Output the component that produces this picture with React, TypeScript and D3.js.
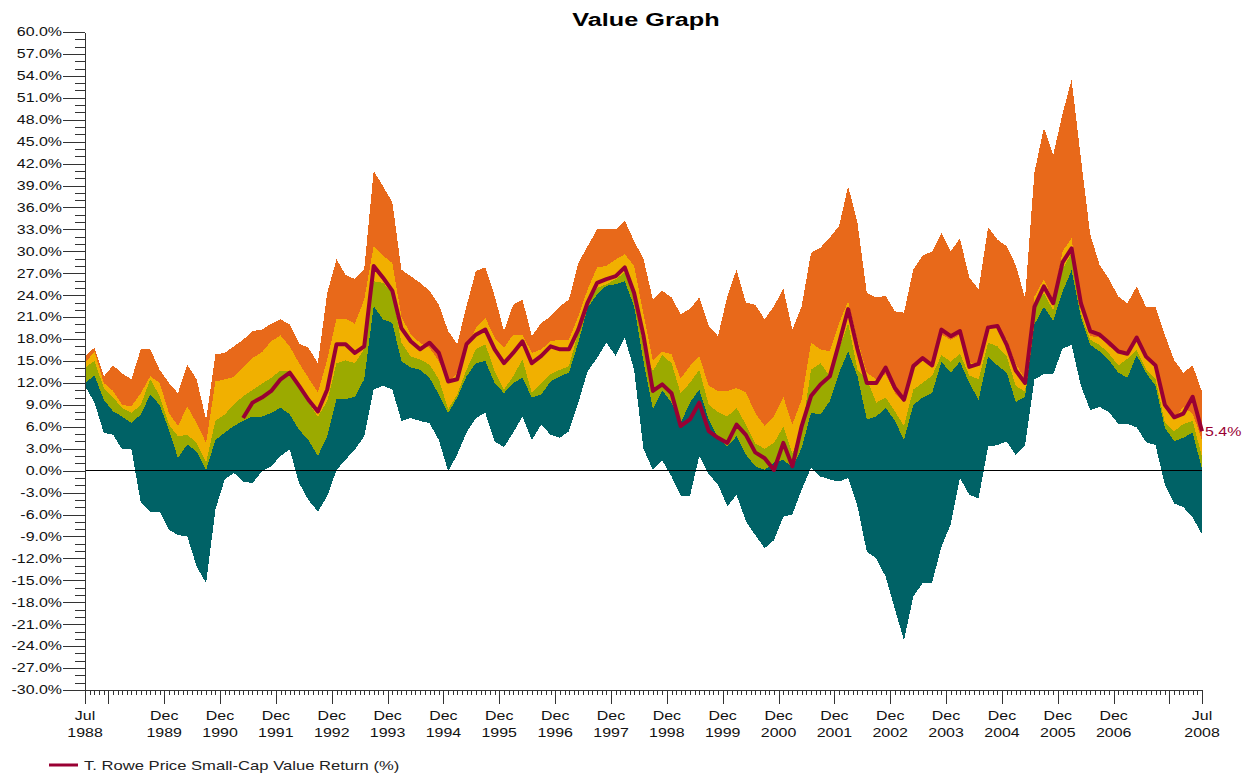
import React, { useEffect, useRef } from 'react';
import * as d3 from 'd3';

// rolling return bands, sampled every 2 months from Jul 1988 to Jul 2008
const START = '1988-07';
const END = '2008-07';
const STEP_MONTHS = 2;

const maxReturn = [
  15.7, 16.8, 12.9, 14.4, 13.3, 12.5, 16.6, 16.6, 13.8, 12.0,
  10.6, 14.5, 12.5, 7.0, 15.9, 16.1, 17.0, 17.9, 19.1, 19.3,
  20.1, 20.7, 20.0, 17.4, 16.8, 14.7, 24.3, 28.9, 26.8, 26.2,
  27.5, 41.0, 38.9, 36.7, 27.5, 26.6, 25.7, 24.6, 22.7, 19.1,
  17.3, 22.5, 27.3, 27.8, 23.9, 19.1, 22.7, 23.4, 18.4, 20.2,
  21.1, 22.5, 23.4, 28.4, 30.7, 33.0, 33.0, 33.0, 34.2, 31.4,
  29.0, 23.4, 24.6, 23.7, 21.4, 22.1, 23.7, 19.8, 18.4, 23.9,
  27.5, 23.0, 22.7, 20.7, 22.5, 24.9, 19.3, 22.5, 29.8, 30.5,
  31.9, 33.5, 38.9, 33.9, 24.3, 23.7, 23.9, 21.8, 21.6, 27.5,
  29.4, 30.0, 32.5, 30.0, 31.8, 26.4, 24.8, 33.3, 31.6, 30.7,
  28.1, 23.6, 40.8, 46.9, 43.2, 48.8, 53.5, 42.7, 32.3, 28.1,
  26.2, 23.8, 22.9, 25.2, 22.4, 22.4, 18.6, 15.1, 13.4, 14.4,
  10.8,
];

const upperQuartile = [
  14.7, 16.3, 12.0, 10.9, 9.0, 8.8, 10.6, 12.9, 12.0, 7.9,
  6.1, 8.8, 6.5, 3.8, 12.2, 12.5, 12.8, 14.1, 15.4, 16.2,
  17.7, 18.5, 17.0, 14.7, 12.7, 10.7, 15.2, 20.8, 20.8, 20.1,
  23.4, 30.7, 29.4, 28.4, 21.1, 18.6, 17.5, 16.8, 15.0, 12.0,
  13.4, 17.0, 19.5, 20.9, 18.2, 16.8, 18.6, 18.6, 16.1, 16.6,
  17.7, 17.9, 17.9, 21.1, 24.8, 27.8, 28.0, 28.9, 29.6, 28.0,
  21.5, 15.0, 16.3, 15.9, 12.6, 14.3, 15.7, 11.6, 10.9, 10.9,
  11.3, 10.7, 7.9, 6.1, 7.4, 10.1, 6.3, 9.7, 17.5, 16.6,
  16.3, 20.2, 23.2, 17.9, 13.4, 12.5, 13.2, 10.6, 9.3, 14.1,
  15.0, 14.9, 18.6, 17.9, 18.6, 14.9, 14.4, 20.0, 19.6, 17.9,
  14.6, 12.5, 23.8, 26.2, 23.3, 30.0, 31.8, 22.9, 18.4, 18.2,
  17.0, 16.3, 16.3, 17.7, 15.6, 14.4, 8.5, 7.1, 8.7, 7.8,
  4.2,
];

const medianReturn = [
  14.1, 15.0, 11.3, 10.0, 8.6, 7.9, 9.0, 12.5, 10.2, 6.3,
  4.7, 4.9, 3.8, 1.1, 6.8, 7.7, 9.0, 10.2, 11.0, 11.9,
  12.7, 13.7, 13.6, 11.6, 9.3, 7.4, 9.5, 14.7, 15.1, 14.7,
  16.6, 25.9, 25.7, 24.3, 17.5, 15.6, 15.2, 14.5, 12.5, 8.4,
  10.4, 13.8, 16.6, 17.3, 13.6, 11.1, 12.9, 15.2, 10.6, 12.0,
  13.2, 13.8, 14.3, 18.9, 22.7, 25.0, 25.5, 26.2, 27.1, 23.9,
  17.0, 13.6, 15.8, 14.7, 10.6, 12.0, 13.8, 9.0, 8.0, 7.4,
  8.6, 6.3, 3.7, 3.0, 3.8, 6.0, 2.4, 5.2, 13.8, 14.7,
  12.9, 16.6, 20.2, 13.8, 12.5, 9.3, 10.0, 8.1, 6.1, 11.1,
  12.0, 13.0, 15.8, 14.9, 16.0, 13.0, 12.5, 17.5, 17.0, 15.6,
  11.6, 10.8, 22.4, 24.3, 21.9, 27.6, 29.7, 21.5, 17.9, 17.2,
  16.0, 14.4, 15.3, 16.5, 13.9, 12.5, 6.6, 5.4, 6.4, 6.8,
  1.9,
];

const lowerQuartile = [
  12.0, 13.0, 9.7, 8.1, 7.4, 6.5, 7.7, 10.4, 9.0, 5.6,
  1.7, 3.6, 2.6, 0.1, 4.2, 5.2, 6.1, 6.8, 7.4, 7.4,
  7.9, 8.6, 7.7, 5.6, 4.2, 2.0, 4.7, 9.8, 9.8, 10.1,
  12.5, 22.5, 20.7, 20.2, 15.0, 14.1, 13.8, 12.7, 10.4, 7.9,
  10.0, 12.9, 14.7, 15.0, 12.0, 10.6, 12.0, 12.7, 10.0, 10.4,
  12.2, 12.9, 13.4, 17.5, 22.3, 24.1, 25.3, 25.5, 25.9, 22.5,
  15.0, 8.4, 11.0, 9.3, 6.5, 9.3, 11.1, 7.0, 4.5, 3.3,
  4.7, 2.2, 0.6, 0.1, 1.1, 1.5, 0.4, 3.1, 7.9, 7.7,
  9.5, 13.4, 16.3, 12.9, 7.0, 7.4, 8.6, 6.8, 4.2, 9.0,
  10.0, 10.6, 14.9, 13.4, 14.9, 12.0, 9.7, 15.6, 14.4, 13.4,
  9.4, 10.1, 20.0, 22.4, 20.5, 24.5, 27.4, 21.0, 17.2, 16.3,
  15.1, 13.4, 12.7, 15.8, 13.4, 11.6, 5.9, 4.0, 4.5, 5.2,
  0.2,
];

const minReturn = [
  11.6, 9.3, 5.2, 4.9, 2.9, 2.9, -4.4, -5.6, -5.6, -8.1,
  -8.8, -9.0, -13.1, -15.4, -5.3, -1.2, -0.3, -1.5, -1.7, -0.1,
  0.6, 2.0, 2.9, -1.7, -4.0, -5.6, -3.5, 0.1, 1.5, 2.9,
  4.7, 11.1, 11.6, 11.1, 6.8, 7.2, 6.8, 6.5, 4.2, -0.1,
  2.2, 5.2, 7.2, 7.9, 4.0, 3.2, 5.2, 7.4, 4.2, 6.3,
  4.9, 4.5, 5.4, 9.3, 13.6, 15.4, 17.5, 15.7, 18.2, 13.8,
  3.0, 0.1, 1.4, -0.8, -3.4, -3.5, 2.0, -0.5, -1.9, -4.9,
  -3.3, -6.9, -8.8, -10.6, -9.5, -6.3, -6.0, -2.6, 0.4, -0.8,
  -1.2, -1.5, -1.0, -4.9, -11.1, -12.0, -14.5, -19.0, -23.2, -17.2,
  -15.4, -15.3, -10.4, -7.3, -1.0, -3.3, -3.8, 3.3, 3.5, 4.0,
  2.1, 3.5, 12.5, 13.2, 13.2, 16.7, 17.2, 11.6, 8.3, 8.7,
  8.0, 6.4, 6.4, 5.9, 3.9, 3.5, -1.9, -4.5, -5.0, -6.4,
  -8.7,
];

// fund has no history before spring 1991
const fundReturn = [
  null, null, null, null, null, null, null, null, null, null,
  null, null, null, null, null, null, null,
  7.2, 9.3, 10.0, 10.9, 12.5, 13.4, 11.6, 9.7, 8.1, 11.1,
  17.3, 17.3, 16.1, 17.0, 28.0, 26.4, 24.6, 19.5, 17.7, 16.6,
  17.5, 16.1, 12.2, 12.5, 17.3, 18.6, 19.3, 16.6, 14.7, 16.1,
  17.7, 14.7, 15.7, 17.0, 16.6, 16.6, 19.3, 23.0, 25.7, 26.2,
  26.6, 27.8, 24.3, 18.5, 10.9, 11.8, 10.6, 6.1, 7.0, 9.3,
  5.4, 4.5, 3.8, 6.3, 4.9, 2.5, 1.7, 0.1, 3.8, 0.6,
  6.1, 10.2, 11.8, 12.9, 17.5, 22.1, 16.6, 12.0, 12.0, 14.1,
  11.3, 9.7, 14.3, 15.4, 14.4, 19.3, 18.4, 19.1, 14.2, 14.6,
  19.6, 19.8, 17.2, 13.7, 12.0, 22.4, 25.2, 22.9, 28.5, 30.4,
  22.9, 19.1, 18.6, 17.5, 16.3, 16.0, 18.2, 15.6, 14.4, 9.0,
  7.3, 7.8, 10.1, 5.4,
];

const yTickValues = [
  -30, -27, -24, -21, -18, -15, -12, -9, -6, -3, 0, 3, 6, 9, 12, 15,
  18, 21, 24, 27, 30, 33, 36, 39, 42, 45, 48, 51, 54, 57, 60,
];

const xTickLabels = [
  '1988-07', '1989-12', '1990-12', '1991-12', '1992-12', '1993-12', '1994-12',
  '1995-12', '1996-12', '1997-12', '1998-12', '1999-12', '2000-12', '2001-12',
  '2002-12', '2003-12', '2004-12', '2005-12', '2006-12', '2008-07',
];

const seriesName = 'T. Rowe Price Small-Cap Value Return (%)';
const chartTitle = 'Value Graph';

const colors = {
  top: '#E8691A',
  upper: '#F1B000',
  lower: '#9BAA00',
  bottom: '#006266',
  fund: '#990033',
};

const WIDTH = 1243;
const HEIGHT = 773;
const margin = { top: 32, right: 41, bottom: 83, left: 85 };
const STRETCH = 1.33; // the source glyphs are drawn wide
const FONT = "'Liberation Sans', Arial, sans-serif";

function App() {
  const svgRef = useRef<SVGSVGElement>(null);

  useEffect(() => {
    const svg = d3.select(svgRef.current);
    svg.selectAll('*').remove();

    const parse = d3.timeParse('%Y-%m');
    const start = parse(START) as Date;
    const end = parse(END) as Date;
    const dates = maxReturn.map((_, i) => d3.timeMonth.offset(start, i * STEP_MONTHS));

    const x = d3
      .scaleTime()
      .domain([start, end])
      .range([margin.left, WIDTH - margin.right]);
    const y = d3
      .scaleLinear()
      .domain([-30, 60])
      .range([HEIGHT - margin.bottom, margin.top]);

    const text = (
      parent: any,
      tx: number,
      ty: number,
      str: string,
      anchor: string,
      size: number,
      fill = '#111',
      weight = 'normal'
    ) =>
      parent
        .append('text')
        .attr('transform', `translate(${tx},${ty}) scale(${STRETCH},1)`)
        .attr('text-anchor', anchor)
        .attr('font-family', FONT)
        .attr('font-size', size)
        .attr('font-weight', weight)
        .attr('fill', fill)
        .text(str);

    // bands
    const bands = [
      { lo: upperQuartile, hi: maxReturn, color: colors.top },
      { lo: medianReturn, hi: upperQuartile, color: colors.upper },
      { lo: lowerQuartile, hi: medianReturn, color: colors.lower },
      { lo: minReturn, hi: lowerQuartile, color: colors.bottom },
    ];
    bands.forEach((b) => {
      const area = d3
        .area<number>()
        .x((_, i) => x(dates[i]))
        .y0((_, i) => y(b.lo[i]))
        .y1((d) => y(d));
      svg
        .append('path')
        .datum(b.hi)
        .attr('d', area)
        .attr('fill', b.color)
        .attr('shape-rendering', 'crispEdges');
    });

    // zero line
    svg
      .append('line')
      .attr('x1', x(start))
      .attr('x2', x(end))
      .attr('y1', y(0))
      .attr('y2', y(0))
      .attr('stroke', '#000')
      .attr('shape-rendering', 'crispEdges');

    // fund line
    const line = d3
      .line<number | null>()
      .defined((d) => d !== null)
      .x((_, i) => x(dates[i]))
      .y((d) => y(d as number));
    svg
      .append('path')
      .datum(fundReturn)
      .attr('d', line)
      .attr('fill', 'none')
      .attr('stroke', colors.fund)
      .attr('stroke-width', 4)
      .attr('stroke-linejoin', 'round');

    const lastFund = fundReturn[fundReturn.length - 1] as number;
    text(svg, x(end) + 3, y(lastFund) + 4.5, `${lastFund.toFixed(1)}%`, 'start', 12, colors.fund);

    // y axis
    const yMinor = svg
      .append('g')
      .attr('transform', `translate(${margin.left},0)`)
      .call(
        d3.axisLeft(y).tickValues(d3.range(-30, 61, 1)).tickSize(10).tickSizeOuter(0).tickFormat(() => '')
      );
    const yMajor = svg
      .append('g')
      .attr('transform', `translate(${margin.left},0)`)
      .call(d3.axisLeft(y).tickValues(yTickValues).tickSize(22).tickSizeOuter(0).tickFormat(() => ''));
    [yMinor, yMajor].forEach((g) => {
      g.selectAll('line, path').attr('stroke', '#333').attr('shape-rendering', 'crispEdges');
    });
    yTickValues.forEach((v) => {
      text(svg, margin.left - 23, y(v) + 4.3, `${v.toFixed(1)}%`, 'end', 12);
    });

    // x axis
    const monthEnd = d3.timeMonth.offset(end, 1);
    const decembers = d3.timeMonth.range(start, monthEnd).filter((d) => d.getMonth() === 11);
    const labelDates = xTickLabels.map((s) => parse(s) as Date);
    const xMinor = svg
      .append('g')
      .attr('transform', `translate(0,${HEIGHT - margin.bottom})`)
      .call(
        d3
          .axisBottom(x)
          .tickValues(d3.timeMonth.range(start, monthEnd))
          .tickSize(5)
          .tickSizeOuter(0)
          .tickFormat(() => '')
      );
    const xMajor = svg
      .append('g')
      .attr('transform', `translate(0,${HEIGHT - margin.bottom})`)
      .call(
        d3
          .axisBottom(x)
          .tickValues([start, ...decembers, end])
          .tickSize(14)
          .tickSizeOuter(0)
          .tickFormat(() => '')
      );
    [xMinor, xMajor].forEach((g) => {
      g.selectAll('line, path').attr('stroke', '#333').attr('shape-rendering', 'crispEdges');
    });
    const fmtMonth = d3.timeFormat('%b');
    const fmtYear = d3.timeFormat('%Y');
    labelDates.forEach((d) => {
      text(svg, x(d), HEIGHT - margin.bottom + 30, fmtMonth(d), 'middle', 12);
      text(svg, x(d), HEIGHT - margin.bottom + 47, fmtYear(d), 'middle', 12);
    });

    // title
    text(svg, 646, 26, chartTitle, 'middle', 19, '#000', 'bold');

    // legend
    svg
      .append('line')
      .attr('x1', 49)
      .attr('x2', 78)
      .attr('y1', 765)
      .attr('y2', 765)
      .attr('stroke', colors.fund)
      .attr('stroke-width', 3);
    text(svg, 84, 769.5, seriesName, 'start', 12.5, '#222');
  }, []);

  return (
    <div style={{ position: 'absolute', left: 0, top: 0 }}>
      <svg ref={svgRef} width={WIDTH} height={HEIGHT} style={{ display: 'block', background: '#fff' }} />
    </div>
  );
}

export default App;
